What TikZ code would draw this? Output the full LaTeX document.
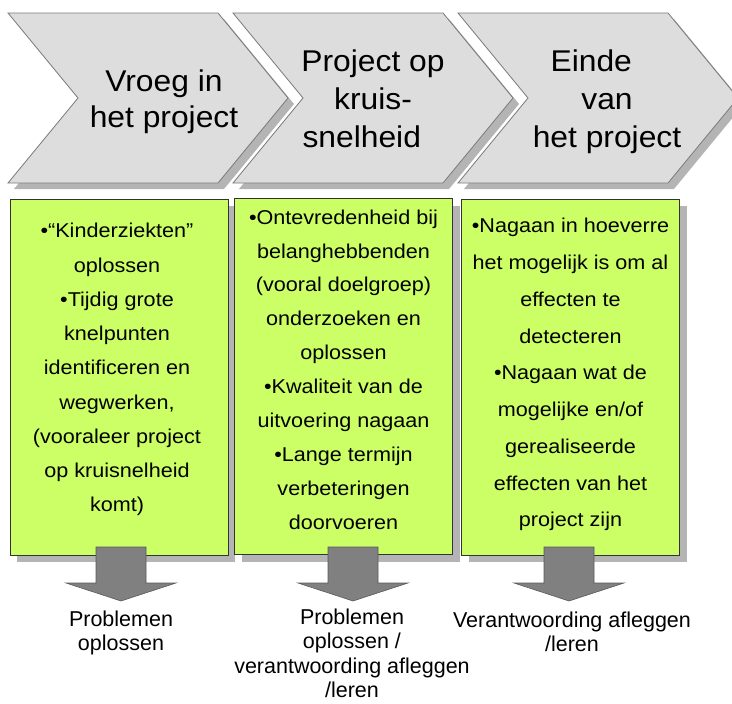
\documentclass[tikz,border=0pt]{standalone}
\usepackage{fontspec}
\setmainfont{Liberation Sans}
\newfontfamily\titlefont[FakeStretch=1.06]{Liberation Sans}
\newfontfamily\boxfont[FakeStretch=1.08]{Liberation Sans}
\usepackage{xcolor}
\usepackage{tikz}
\usetikzlibrary{positioning, shadows}

\definecolor{chevgray}{HTML}{DDDDDD}
\definecolor{chevline}{HTML}{7A7A7A}
\definecolor{shadegray}{HTML}{B4B4B4}
\definecolor{boxgreen}{HTML}{CCFF66}
\definecolor{boxline}{HTML}{333333}
\definecolor{arrowgray}{HTML}{808080}
\definecolor{arrowline}{HTML}{5A5A5A}

\begin{document}
\begin{tikzpicture}[
    x=1pt, y=-1pt,
    chevron/.style={draw=chevline, fill=chevgray, line width=0.8pt,
        drop shadow={shadow xshift=6pt, shadow yshift=-6pt, fill=shadegray, opacity=1}},
    chevtext/.style={anchor=north, inner sep=0pt, align=center,
        font=\titlefont\fontsize{30}{#1}\selectfont},
    greenbox/.style={draw=boxline, fill=boxgreen, line width=0.8pt,
        minimum width=218pt, minimum height=356pt, inner sep=0pt,
        drop shadow={shadow xshift=7pt, shadow yshift=-7pt, fill=shadegray, opacity=1}},
    boxtext/.style={inner sep=0pt, align=center,
        font=\boxfont\fontsize{20}{#1}\selectfont},
    blockarrow/.style={draw=arrowline, fill=arrowgray, line width=0.6pt},
    outtext/.style={anchor=north, inner sep=0pt, align=center,
        font=\fontsize{21.5}{24.2}\selectfont}
]
\useasboundingbox (0,0) rectangle (732,704);
\clip (0,0) rectangle (732,704);

% phases
\foreach \x in {8,233,458}
    \draw[chevron] (\x,13) -- ++(210,0) -- ++(70,85) -- ++(-70,85)
        -- ++(-210,0) -- ++(70,-85) -- cycle;

\node[chevtext=36] (phase1) at (164,70) {Vroeg in\\het project};
\node[chevtext=38] (phase2) at (373,50) {Project op\\kruis-\\snelheid\hspace*{0.75em}};
\node[chevtext=38] (phase3) at (607,50) {Einde\hspace*{1.05em}\\van\hspace*{1.45em}\\het project};

% what to do per phase
\node[greenbox] (box1) at (119,377) {};
\node[greenbox] (box2) at (343.5,376.5) {};
\node[greenbox] (box3) at (570.5,377) {};

\node[boxtext=34.25, below=24.5pt of box1.north, xshift=-2pt] (list1)
    {•“Kinderziekten”\\oplossen\\•Tijdig grote\\knelpunten\\identificeren en\\wegwerken,\\(vooraleer project\\op kruisnelheid\\komt)};
\node[boxtext=33.9, below=11.4pt of box2.north] (list2)
    {•Ontevredenheid bij\\belanghebbenden\\(vooral doelgroep)\\onderzoeken en\\oplossen\\•Kwaliteit van de\\uitvoering nagaan\\•Lange termijn\\verbeteringen\\doorvoeren};
\node[boxtext=36.75, below=19.5pt of box3.north] (list3)
    {•Nagaan in hoeverre\\het mogelijk is om al\\effecten te\\detecteren\\•Nagaan wat de\\mogelijke en/of\\gerealiseerde\\effecten van het\\project zijn};

% arrows down to the aim
\foreach \x [count=\n] in {121,353,569} {
    \coordinate (arr\n) at (\x,547);
    \draw[blockarrow] (arr\n) ++(-25,0) -- ++(50,0) -- ++(0,36) -- ++(30,0)
        -- ++(-55,18) -- ++(-55,-18) -- ++(30,0) -- cycle;
}

\node[outtext] (aim1) at (121,611) {Problemen\\oplossen};
\node[outtext] (aim2) at (352,609) {Problemen\\oplossen /\\verantwoording afleggen\\/leren};
\node[outtext] (aim3) at (572,612) {Verantwoording afleggen\\/leren};
\end{tikzpicture}
\end{document}
